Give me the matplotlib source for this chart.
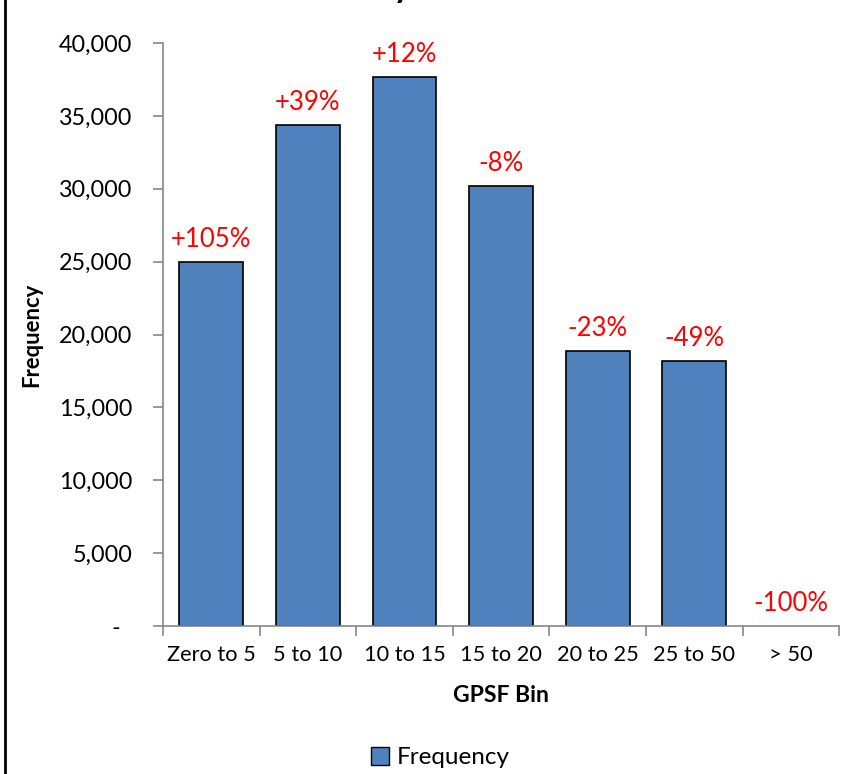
import matplotlib
matplotlib.use("Agg")
import matplotlib.pyplot as plt
from matplotlib.ticker import FuncFormatter, FixedLocator
from matplotlib.patches import Patch
from matplotlib.lines import Line2D

plt.rcParams['font.family'] = ['Lato', 'DejaVu Sans']

# GPSF bins and counts
bins = ["Zero to 5", "5 to 10", "10 to 15", "15 to 20", "20 to 25", "25 to 50", "> 50"]
frequency = [24950, 34350, 37650, 30180, 18850, 18150, 0]
pct_change = ["+105%", "+39%", "+12%", "-8%", "-23%", "-49%", "-100%"]

fig = plt.figure(figsize=(8.58, 7.74), dpi=100)
ax = fig.add_axes([0.19, 0.1912, 0.788, 0.7532])

x = range(len(bins))
edges = ["black" if v > 0 else "none" for v in frequency]
bars = ax.bar(x, frequency, width=0.66, color="#4F81BD", edgecolor=edges, linewidth=1.2, zorder=2)

for xi, v, lab in zip(x, frequency, pct_change):
    ax.annotate(lab, (xi, v), xytext=(0, 11), textcoords="offset points",
                ha="center", va="baseline", color="red", fontsize=18.5)

ax.set_xlim(-0.5, len(bins) - 0.5)
ax.set_ylim(0, 40000)

# tick marks at category boundaries, labels at centres
ax.xaxis.set_major_locator(FixedLocator([i - 0.5 for i in range(len(bins) + 1)]))
ax.xaxis.set_major_formatter(FuncFormatter(lambda v, p: ""))
ax.xaxis.set_minor_locator(FixedLocator(list(x)))
ax.set_xticklabels(bins, minor=True)
ax.tick_params(axis="x", which="major", direction="out", length=7, color="#868686", width=1.2)
ax.tick_params(axis="x", which="minor", length=0, pad=14, labelsize=15.7)

ax.set_yticks(range(0, 40001, 5000))
ax.yaxis.set_major_formatter(FuncFormatter(lambda v, p: "-  " if v == 0 else f"{int(v):,}"))
ax.tick_params(axis="y", direction="out", length=7, color="#868686", width=1.2, labelsize=16.8, pad=15)

for s in ["top", "right"]:
    ax.spines[s].set_visible(False)
for s in ["left", "bottom"]:
    ax.spines[s].set_color("#868686")
    ax.spines[s].set_linewidth(1.2)

ax.set_xlabel("GPSF Bin", fontsize=16.5, fontweight="bold", labelpad=14)
ax.set_ylabel("Frequency", fontsize=15.8, fontweight="bold", labelpad=12)

# title sits above the top edge, only the descenders reach into the figure
fig.text(0.435, 1.003, "Distribution by GPSF Bin", ha="center", va="baseline",
         fontsize=24, fontweight="bold")

fig.legend(handles=[Patch(facecolor="#4F81BD", edgecolor="black", label="Frequency")],
           loc="center", bbox_to_anchor=(0.513, 0.021), frameon=False, fontsize=17.5,
           handlelength=0.75, handleheight=0.75, handletextpad=0.3)

# chart frame edge on the left
fig.add_artist(Line2D([0.006, 0.006], [0, 1], transform=fig.transFigure, color="black", linewidth=2))

fig.savefig("out.png", dpi=100)
